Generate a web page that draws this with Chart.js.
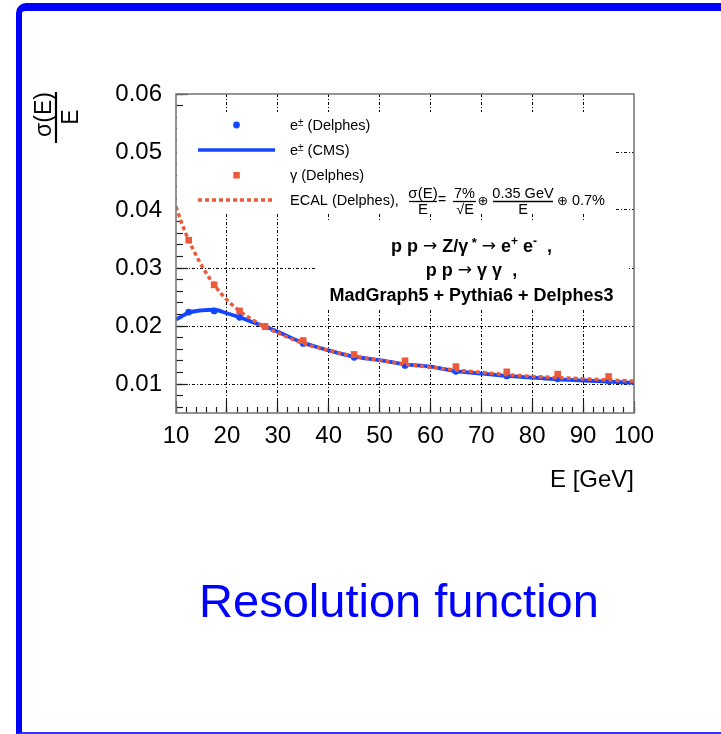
<!DOCTYPE html>
<html>
<head>
<meta charset="utf-8">
<script src="https://cdn.jsdelivr.net/npm/chart.js@4"></script>
<style>
html,body{margin:0;padding:0;background:#fff;}
#wrap{position:relative;width:721px;height:734px;overflow:hidden;background:#fff;}
#frame{position:absolute;left:16px;top:3px;width:800px;height:731px;box-sizing:border-box;
  border-top:8px solid #0000ff;border-left:6px solid #0000ff;border-bottom:2px solid #3434ff;border-top-left-radius:10px;}
canvas{position:absolute;left:0;top:0;}
</style>
</head>
<body>
<div id="wrap"><div id="frame"></div><canvas id="c" width="721" height="734"></canvas></div>
<script>
// ---------------- data ----------------
const xTickValues = [10, 20, 30, 40, 50, 60, 70, 80, 90, 100];
const yTickValues = [0.01, 0.02, 0.03, 0.04, 0.05, 0.06];
// Delphes energy bins (GeV)
const binE = [12.5, 17.5, 22.5, 27.5, 35, 45, 55, 65, 75, 85, 95];
// e± (Delphes) resolution
const eDelphes = [0.0224, 0.0226, 0.0215, 0.0199, 0.0170, 0.0146, 0.0132, 0.0122, 0.0114, 0.0109, 0.0105];
// γ (Delphes) resolution
const gammaDelphes = [0.0348, 0.0271, 0.0226, 0.0199, 0.0175, 0.0151, 0.0140, 0.0130, 0.0121, 0.0117, 0.0113];
// curve sampling energies (GeV)
const curveE = [10, 11, 12.5, 15, 17.5, 20, 22.5, 25, 27.5, 30, 35, 40, 45, 50, 55, 60, 65, 70, 75, 80, 85, 90, 95, 100];
// e± (CMS) curve
const eCMS = [0.0211, 0.0216, 0.0223, 0.0227, 0.0228, 0.0222, 0.0215, 0.0207, 0.0199, 0.0190, 0.0171, 0.0158, 0.0147, 0.0141, 0.0134, 0.0130, 0.0122, 0.0118, 0.0114, 0.0111, 0.0108, 0.0106, 0.0104, 0.0102];
// ECAL (Delphes) parametrisation curve
const ecalDelphes = [0.0406, 0.0380, 0.0348, 0.0305, 0.0271, 0.0245, 0.0226, 0.0211, 0.0198, 0.0188, 0.0170, 0.0158, 0.0148, 0.0141, 0.0134, 0.0129, 0.0124, 0.0120, 0.0116, 0.0113, 0.0111, 0.0109, 0.0107, 0.0105];
// minor tick positions
const xMinorTicks = []; for (let v = 10; v <= 100; v += 2) xMinorTicks.push(v);
const yMinorTicks = []; for (let k = 3; k <= 30; k++) yMinorTicks.push(k * 0.002);

// ---------------- styles ----------------
const FONT = "'Liberation Sans', Arial, Helvetica, sans-serif";
const SYM = "'DejaVu Sans', sans-serif";
const BLUE = '#1446ff';
const ORANGE = '#eb5a3a';
const pts = (xs, ys) => xs.map((x, i) => ({x: x, y: ys[i]}));

function rich(ctx, parts, x, y, align) {
  const fonts = parts.map(p => (p.bold ? 'bold ' : '') + p.size + 'px ' + (p.family || FONT));
  const widths = parts.map((p, i) => { ctx.font = fonts[i]; return ctx.measureText(p.t).width + (p.gap || 0); });
  const total = widths.reduce((a, b) => a + b, 0);
  let cx = align === 'center' ? x - total / 2 : x;
  ctx.textAlign = 'left'; ctx.textBaseline = 'alphabetic';
  parts.forEach((p, i) => { ctx.font = fonts[i]; ctx.fillText(p.t, cx, y + (p.dy || 0)); cx += widths[i]; });
}
function ctext(ctx, t, x, y, size, bold, align, family) {
  ctx.font = (bold ? 'bold ' : '') + size + 'px ' + (family || FONT);
  ctx.textAlign = align || 'center'; ctx.textBaseline = 'alphabetic';
  ctx.fillText(t, x, y);
}
function hbar(ctx, x1, x2, y) {
  ctx.beginPath(); ctx.moveTo(x1, y); ctx.lineTo(x2, y); ctx.lineWidth = 1.3; ctx.strokeStyle = '#000'; ctx.stroke();
}

const overlay = {
  id: 'overlay',
  beforeDatasetsDraw(chart) {
    const c = chart.ctx;
    c.save();
    c.fillStyle = '#fff';
    c.fillRect(177, 112, 438, 101);   // legend box
    c.fillRect(316, 222, 312, 86);    // process text box
    c.restore();
  },
  afterDatasetsDraw(chart) {
    const c = chart.ctx, a = chart.chartArea;
    c.save();
    // frame
    c.strokeStyle = '#7a7a7a'; c.lineWidth = 1.6; c.setLineDash([]);
    c.strokeRect(a.left, a.top, a.right - a.left, a.bottom - a.top);

    // legend samples
    c.fillStyle = BLUE;
    c.beginPath(); c.arc(236.5, 125, 3.4, 0, Math.PI * 2); c.fill();
    c.strokeStyle = BLUE; c.lineWidth = 3.6;
    c.beginPath(); c.moveTo(198, 150); c.lineTo(275, 150); c.stroke();
    c.fillStyle = ORANGE; c.fillRect(233.3, 172, 6.5, 6.5);
    c.strokeStyle = ORANGE; c.lineWidth = 3.5; c.setLineDash([4, 3]);
    c.beginPath(); c.moveTo(198, 200); c.lineTo(275, 200); c.stroke();
    c.setLineDash([]);

    // legend texts
    c.fillStyle = '#000';
    const ls = 14.5;
    rich(c, [{t: 'e', size: ls}, {t: '±', size: 10, dy: -4}, {t: ' (Delphes)', size: ls}], 290, 130);
    rich(c, [{t: 'e', size: ls}, {t: '±', size: 10, dy: -4}, {t: ' (CMS)', size: ls}], 290, 155);
    rich(c, [{t: 'γ (Delphes)', size: ls}], 290, 180);
    rich(c, [{t: 'ECAL (Delphes),', size: ls}], 290, 205);
    // formula  σ(E)/E = 7%/√E ⊕ 0.35 GeV/E ⊕ 0.7%
    ctext(c, 'σ(E)', 423, 198, 15);
    hbar(c, 409, 437, 201.5);
    ctext(c, 'E', 423, 213.5, 15);
    ctext(c, '=', 442, 204, 14);
    ctext(c, '7%', 464.5, 198, 14.5);
    hbar(c, 453, 476, 201.5);
    ctext(c, '√E', 465, 214, 14.5);
    ctext(c, '⊕', 483, 204.5, 13, false, 'center', SYM);
    ctext(c, '0.35 GeV', 523, 197.5, 14.5);
    hbar(c, 493, 553, 201.5);
    ctext(c, 'E', 523, 213.5, 14.5);
    rich(c, [{t: '⊕', size: 13, family: SYM}, {t: ' 0.7%', size: 14.5}], 557, 204.5);

    // process text
    const b = 18;
    rich(c, [
      {t: 'p p ', size: b, bold: true},
      {t: '→', size: 17, family: SYM, dy: -1},
      {t: ' Z/γ', size: b, bold: true},
      {t: ' *', size: 13, bold: true, dy: -5},
      {t: ' ', size: b},
      {t: '→', size: 17, family: SYM, dy: -1},
      {t: ' e', size: b, bold: true},
      {t: '+', size: 12, bold: true, dy: -7},
      {t: ' e', size: b, bold: true},
      {t: '-', size: 12, bold: true, dy: -7},
      {t: '  ,', size: b, bold: true}
    ], 471.5, 251.5, 'center');
    rich(c, [
      {t: 'p p ', size: b, bold: true},
      {t: '→', size: 17, family: SYM, dy: -1},
      {t: ' γ γ  ,', size: b, bold: true}
    ], 471.5, 275.5, 'center');
    ctext(c, 'MadGraph5 + Pythia6 + Delphes3', 471.5, 300.5, b, true);

    // y axis title σ(E)/E (rotated)
    c.save();
    c.translate(56, 117);
    c.rotate(-Math.PI / 2);
    c.fillStyle = '#000';
    ctext(c, 'σ(E)', 2.5, -5, 23);
    c.beginPath(); c.moveTo(-26, 0); c.lineTo(25, 0); c.lineWidth = 2.2; c.strokeStyle = '#000'; c.stroke();
    ctext(c, 'E', 0, 21.5, 23);
    c.restore();

    // slide title
    c.fillStyle = '#0000ff';
    ctext(c, 'Resolution function', 399, 617, 47);
    c.restore();
  }
};

new Chart(document.getElementById('c'), {
  data: {
    datasets: [
      {type: 'line', label: 'ECAL (Delphes)', data: pts(curveE, ecalDelphes), xAxisID: 'x', yAxisID: 'y',
       borderColor: ORANGE, borderWidth: 3.5, borderDash: [4, 3], cubicInterpolationMode: 'monotone',
       pointRadius: 0, fill: false, order: 0},
      {type: 'scatter', label: 'γ (Delphes)', data: pts(binE, gammaDelphes), xAxisID: 'x', yAxisID: 'y',
       pointStyle: 'rect', pointRadius: 4.7, backgroundColor: ORANGE, borderWidth: 0, order: 1},
      {type: 'line', label: 'e± (CMS)', data: pts(curveE, eCMS), xAxisID: 'x', yAxisID: 'y',
       borderColor: BLUE, borderWidth: 3.8, cubicInterpolationMode: 'monotone', pointRadius: 0, fill: false, order: 2},
      {type: 'scatter', label: 'e± (Delphes)', data: pts(binE, eDelphes), xAxisID: 'x', yAxisID: 'y',
       pointStyle: 'circle', pointRadius: 3.4, backgroundColor: BLUE, borderWidth: 0, order: 3}
    ]
  },
  options: {
    responsive: false, animation: false, devicePixelRatio: 1, events: [],
    layout: {padding: {left: 0, top: 94, right: 87, bottom: 239}},
    plugins: {legend: {display: false}, tooltip: {enabled: false}},
    scales: {
      x: {
        type: 'linear', position: 'bottom', min: 10, max: 100, weight: 0,
        afterBuildTicks: s => { s.ticks = xTickValues.map(v => ({value: v})); },
        afterFit: s => { s.height = 82; },
        ticks: {font: {family: FONT, size: 24}, color: '#000', padding: 21.3, autoSkip: false, maxRotation: 0,
                callback: v => String(v)},
        grid: {color: ctx => (ctx.tick && (ctx.tick.value <= 10 || ctx.tick.value >= 100)) ? 'rgba(0,0,0,0)' : '#000',
               lineWidth: 1, tickLength: -12, tickColor: '#222', tickWidth: 1.2},
        border: {display: false, dash: [3, 2, 1, 2]},
        title: {display: true, text: 'E [GeV]', align: 'end', color: '#000', font: {family: FONT, size: 24},
                padding: {top: 0, bottom: 0}}
      },
      xMinor: {
        type: 'linear', position: 'bottom', min: 10, max: 100, weight: -1,
        afterBuildTicks: s => { s.ticks = xMinorTicks.map(v => ({value: v})); },
        afterFit: s => { s.height = 0; },
        ticks: {display: false},
        grid: {drawOnChartArea: false, drawTicks: true, tickLength: -6, tickColor: '#222', tickWidth: 1.2},
        border: {display: false}
      },
      y: {
        type: 'linear', position: 'left', min: 0.005, max: 0.06, weight: 0,
        afterBuildTicks: s => { s.ticks = yTickValues.map(v => ({value: v})); },
        afterFit: s => { s.width = 176; },
        ticks: {font: {family: FONT, size: 24}, color: '#000', padding: 26, callback: v => v.toFixed(2)},
        grid: {color: ctx => (ctx.tick && ctx.tick.value > 0.055) ? 'rgba(0,0,0,0)' : '#000',
               lineWidth: 1, tickLength: -12, tickColor: '#222', tickWidth: 1.2},
        border: {display: false, dash: [3, 2, 1, 2]}
      },
      yMinor: {
        type: 'linear', position: 'left', min: 0.005, max: 0.06, weight: -1,
        afterBuildTicks: s => { s.ticks = yMinorTicks.map(v => ({value: v})); },
        afterFit: s => { s.width = 0; },
        ticks: {display: false},
        grid: {drawOnChartArea: false, drawTicks: true, tickLength: -7, tickColor: '#222', tickWidth: 1.2},
        border: {display: false}
      }
    }
  },
  plugins: [overlay]
});
</script>
</body>
</html>
